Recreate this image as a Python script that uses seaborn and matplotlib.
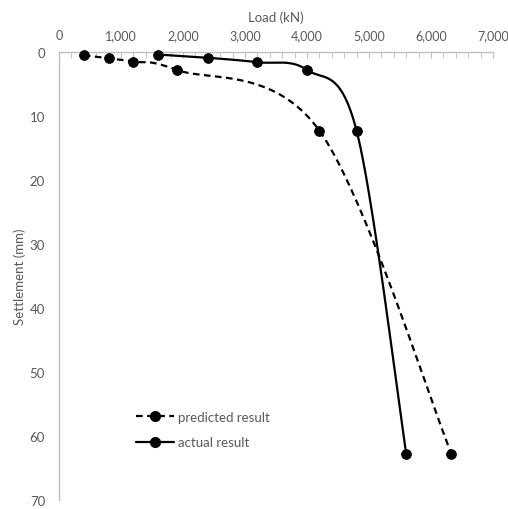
import numpy as np
import pandas as pd
import matplotlib
matplotlib.use("Agg")
import matplotlib.pyplot as plt
from matplotlib.lines import Line2D
from matplotlib.ticker import MultipleLocator, FuncFormatter
import seaborn as sns

# data
pred_load = [400, 800, 1200, 1900, 4200, 6330]
pred_settle = [0.5, 1.0, 1.5, 2.8, 12.3, 62.8]
act_load = [1600, 2400, 3200, 4000, 4800, 5600]
act_settle = [0.4, 0.9, 1.6, 2.8, 12.3, 62.8]

XMAX, YMAX = 7000, 70
W, H = 434.0, 448.0  # plot area size in pixels, used for smoothing in screen space


def smooth(xs, ys, n=40):
    # Excel-like smoothed line (Catmull-Rom through the points, in screen units)
    px = np.array(xs, float) / XMAX * W
    py = np.array(ys, float) / YMAX * H
    pts = np.column_stack([px, py])
    pts = np.vstack([pts[0], pts, pts[-1]])
    out = []
    for i in range(1, len(pts) - 2):
        p0, p1, p2, p3 = pts[i - 1], pts[i], pts[i + 1], pts[i + 2]
        c1 = p1 + (p2 - p0) / 6
        c2 = p2 - (p3 - p1) / 6
        t = np.linspace(0, 1, n)[:, None]
        seg = ((1 - t) ** 3) * p1 + 3 * ((1 - t) ** 2) * t * c1 + 3 * (1 - t) * t ** 2 * c2 + t ** 3 * p2
        out.append(seg if i == 1 else seg[1:])
    out = np.vstack(out)
    return out[:, 0] / W * XMAX, out[:, 1] / H * YMAX


sns.set_style("white")
plt.rcParams["font.family"] = ["Lato", "DejaVu Sans"]
grey = "#595959"
axis_grey = "#bfbfbf"

fig = plt.figure(figsize=(5.08, 5.10), dpi=100)
ax = fig.add_axes([59 / 508, 1 - 501 / 510, 434 / 508, 448 / 510])

px, py = smooth(pred_load, pred_settle)
ax_, ay_ = smooth(act_load, act_settle)
sns.lineplot(x=px, y=py, sort=False, ax=ax, color="black", lw=1.6, linestyle=(0, (3, 2)))
sns.lineplot(x=ax_, y=ay_, sort=False, ax=ax, color="black", lw=1.6)
sns.scatterplot(x=pred_load, y=pred_settle, ax=ax, color="black", s=50, edgecolor="black", zorder=5, clip_on=False)
sns.scatterplot(x=act_load, y=act_settle, ax=ax, color="black", s=50, edgecolor="black", zorder=5, clip_on=False)

ax.set_xlim(0, XMAX)
ax.set_ylim(YMAX, 0)
ax.xaxis.set_ticks_position("top")
ax.xaxis.set_label_position("top")
ax.xaxis.set_major_locator(MultipleLocator(1000))
ax.xaxis.set_minor_locator(MultipleLocator(200))
ax.yaxis.set_major_locator(MultipleLocator(10))
ax.yaxis.set_minor_locator(MultipleLocator(2))
ax.xaxis.set_major_formatter(FuncFormatter(lambda v, p: f"{int(v):,}"))

for s in ["right", "bottom"]:
    ax.spines[s].set_visible(False)
for s in ["top", "left"]:
    ax.spines[s].set_color(axis_grey)
    ax.spines[s].set_linewidth(1.0)

ax.tick_params(axis="x", which="both", direction="in", colors=axis_grey, labelcolor=grey, labelsize=9, pad=8)
ax.tick_params(axis="x", which="major", length=4)
ax.tick_params(axis="x", which="minor", length=4)
ax.tick_params(axis="y", which="both", direction="out", colors=axis_grey, labelcolor=grey, labelsize=9.5, pad=6)
ax.tick_params(axis="y", which="major", length=4)
ax.tick_params(axis="y", which="minor", length=3)

ax.set_xlabel("Load (kN)", color=grey, fontsize=9.5, labelpad=6)
ax.set_ylabel("Settlement (mm)", color=grey, fontsize=9.5, labelpad=3)

handles = [
    Line2D([], [], color="black", lw=1.6, linestyle=(0, (3, 2)), marker="o", markersize=7),
    Line2D([], [], color="black", lw=1.6, marker="o", markersize=7),
]
ax.legend(handles, ["predicted result", "actual result"], frameon=False, loc="upper left",
          bbox_to_anchor=(0.15, 0.225), fontsize=9.5, labelcolor=grey, handlelength=2.9,
          handletextpad=0.3, labelspacing=1.0)

fig.savefig("out.png", dpi=100)
